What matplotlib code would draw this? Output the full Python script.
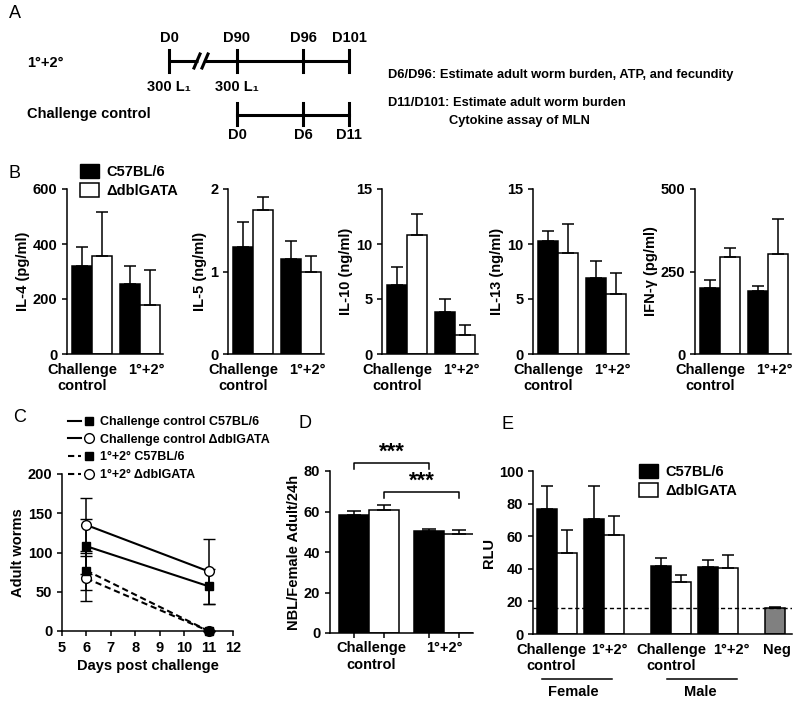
import matplotlib
matplotlib.use("Agg")
import matplotlib.pyplot as plt
import matplotlib.transforms as mtransforms
import numpy as np
from matplotlib.lines import Line2D
from matplotlib.patches import Patch
from matplotlib.legend_handler import HandlerTuple

plt.rcParams["font.family"] = ["Liberation Sans", "DejaVu Sans"]
plt.rcParams["font.weight"] = "bold"
plt.rcParams["font.size"] = 10.5
plt.rcParams["axes.labelweight"] = "bold"
plt.rcParams["axes.linewidth"] = 1.1
plt.rcParams["xtick.major.width"] = 1.1
plt.rcParams["ytick.major.width"] = 1.1
plt.rcParams["xtick.major.size"] = 3.5
plt.rcParams["ytick.major.size"] = 3.5
plt.rcParams["axes.spines.top"] = False
plt.rcParams["axes.spines.right"] = False

# ---------------- data ----------------
groups = ["Challenge\ncontrol", "1°+2°"]
strains = ["C57BL/6", "ΔdblGATA"]

# A: infection schedule
timeline_top = ["D0", "D90", "D96", "D101"]
timeline_bottom = ["D0", "D6", "D11"]
dose = "300 L₁"
notes = ["D6/D96: Estimate adult worm burden, ATP, and fecundity",
         "D11/D101: Estimate adult worm burden", "Cytokine assay of MLN"]

# B: MLN cytokines, values for [challenge control, 1°+2°]
cyto_labels = ["IL-4 (pg/ml)", "IL-5 (ng/ml)", "IL-10 (ng/ml)", "IL-13 (ng/ml)", "IFN-γ (pg/ml)"]
cyto_ticks = [[0, 200, 400, 600], [0, 1, 2], [0, 5, 10, 15], [0, 5, 10, 15], [0, 250, 500]]
cyto_b6 = [[320, 255], [1.3, 1.15], [6.3, 3.8], [10.3, 6.9], [200, 190]]
cyto_b6_err = [[70, 65], [0.3, 0.22], [1.6, 1.2], [0.9, 1.6], [25, 17]]
cyto_dbl = [[355, 180], [1.75, 1.0], [10.8, 1.7], [9.2, 5.5], [295, 302]]
cyto_dbl_err = [[162, 125], [0.15, 0.19], [1.9, 0.95], [2.6, 1.9], [27, 108]]

# C: adult worms
days = [6, 11]
worm_labels = ["Challenge control C57BL/6", "Challenge control ΔdblGATA",
               "1°+2° C57BL/6", "1°+2° ΔdblGATA"]
worms_cc_b6 = [108, 57]
worms_cc_b6_err = [35, 22]
worms_cc_dbl = [135, 76]
worms_cc_dbl_err = [35, 41]
worms_sec_b6 = [77, 0]
worms_sec_b6_err = [25, 0]
worms_sec_dbl = [67, 0]
worms_sec_dbl_err = [29, 0]

# D: fecundity
nbl_b6 = [58.5, 50.2]
nbl_b6_err = [1.6, 1.4]
nbl_dbl = [60.7, 49.0]
nbl_dbl_err = [2.4, 2.0]

# E: ATP (RLU)
rlu_groups = ["Challenge\ncontrol", "1°+2°", "Challenge\ncontrol", "1°+2°"]
rlu_sex = ["Female", "Male"]
rlu_b6 = [76.5, 70.5, 41.5, 41.0]
rlu_b6_err = [14.5, 20.5, 5.0, 4.5]
rlu_dbl = [50.0, 61.0, 32.0, 40.5]
rlu_dbl_err = [14.0, 11.5, 4.5, 8.0]
rlu_neg = 16.0
rlu_neg_err = 0.8
rlu_cutoff = 16.0

# ---------------- figure ----------------
W, H = 800, 709
fig = plt.figure(figsize=(W / 100, H / 100), dpi=100)


def px_axes(left, top, right, bottom):
    return fig.add_axes([left / W, 1 - bottom / H, (right - left) / W, (bottom - top) / H])


def pair_bars(ax, centers, b6, b6_err, dbl, dbl_err, width=1.0, cap=4):
    ekw = dict(ecolor="black", elinewidth=1.1, capsize=cap, capthick=1.1)
    zero = np.zeros(len(b6))
    ax.bar(centers - width / 2, b6, width, color="black", edgecolor="black",
           linewidth=1.1, yerr=[zero, b6_err], error_kw=ekw)
    ax.bar(centers + width / 2, dbl, width, color="white", edgecolor="black",
           linewidth=1.1, yerr=[zero, dbl_err], error_kw=ekw)


def letter(x, y, s):
    fig.text(x / W, 1 - y / H, s, fontsize=13, fontweight="normal", va="center")


# ---- A: schematic ----
axA = fig.add_axes([0, 1 - 150 / H, 1, 150 / H])
axA.set_xlim(0, W)
axA.set_ylim(150, 0)
axA.axis("off")
top_x = [169, 237, 303, 349]
bot_x = top_x[1:]
lwA = 2.2
fsA = 10.5
axA.plot([top_x[0], 198], [61, 61], color="black", lw=lwA, solid_capstyle="butt")
axA.plot([205, top_x[-1]], [61, 61], color="black", lw=lwA, solid_capstyle="butt")
for sx in [197, 205]:
    axA.plot([sx - 3, sx + 3], [68, 54], color="black", lw=lwA)
for x, lab in zip(top_x, timeline_top):
    axA.plot([x, x], [50, 72], color="black", lw=lwA)
    axA.text(x, 38, lab, ha="center", va="center", fontsize=fsA)
for x in top_x[:2]:
    axA.text(x, 87, dose, ha="center", va="center", fontsize=fsA)
axA.plot([bot_x[0], bot_x[-1]], [115, 115], color="black", lw=lwA)
for x, lab in zip(bot_x, timeline_bottom):
    axA.plot([x, x], [103, 125], color="black", lw=lwA)
    axA.text(x, 135, lab, ha="center", va="center", fontsize=fsA)
axA.text(27, 63, "1°+2°", va="center", fontsize=fsA)
axA.text(27, 114, "Challenge control", va="center", fontsize=fsA)
axA.text(388, 75, notes[0], va="center", fontsize=9.3)
axA.text(388, 103, notes[1], va="center", fontsize=9.3)
axA.text(449, 121, notes[2], va="center", fontsize=9.3)

# ---- B: cytokines ----
centers = np.array([1.25, 3.65])
label_x = [0.75, 3.95]
for i, left in enumerate([67, 228, 382, 533, 695]):
    ax = px_axes(left, 189, left + 96, 354)
    pair_bars(ax, centers, cyto_b6[i], cyto_b6_err[i], cyto_dbl[i], cyto_dbl_err[i])
    ax.set_xlim(0, 4.8)
    ax.set_ylim(0, cyto_ticks[i][-1])
    ax.set_yticks(cyto_ticks[i])
    ax.set_xticks(label_x, groups)
    ax.tick_params(axis="x", length=0, pad=6.5)
    ax.set_ylabel(cyto_labels[i], labelpad=2)

fig.legend([Patch(facecolor="black", edgecolor="black"),
            Patch(facecolor="white", edgecolor="black", linewidth=1.1)],
           strains, loc="upper left", bbox_to_anchor=(80 / W, 1 - 164 / H),
           frameon=False, borderpad=0, borderaxespad=0, handlelength=1.3,
           handleheight=1.1, handletextpad=0.5, labelspacing=0.25, fontsize=10.5)

# ---- C: adult worms ----
axC = px_axes(62, 474, 233, 631)
dash = (0, (3, 1.8))
series = [(worms_cc_b6, worms_cc_b6_err, "-", "s", "black", 6),
          (worms_cc_dbl, worms_cc_dbl_err, "-", "o", "white", 7),
          (worms_sec_b6, worms_sec_b6_err, dash, "s", "black", 6),
          (worms_sec_dbl, worms_sec_dbl_err, dash, "o", "white", 7)]
handles = []
for vals, errs, ls, mk, fc, ms in series:
    handles.append((Line2D([], [], color="black", ls=ls, lw=1.5),
                    Line2D([], [], ls="none", marker=mk, mfc=fc, mec="black", ms=ms)))
# open circles first so the filled squares sit on top
for vals, errs, ls, mk, fc, ms in [series[1], series[3], series[0], series[2]]:
    axC.errorbar(days, vals, yerr=errs, color="black", ls=ls, lw=1.5, marker=mk,
                 mfc=fc, mec="black", ms=ms, mew=1.0, capsize=4, elinewidth=1.1,
                 capthick=1.1, clip_on=False, zorder=3)
axC.set_xlim(5, 12)
axC.set_ylim(0, 200)
axC.set_xticks(range(5, 13))
axC.set_yticks([0, 50, 100, 150, 200])
axC.set_xlabel("Days post challenge", labelpad=3)
axC.set_ylabel("Adult worms", labelpad=2)
fig.legend(handles, worm_labels, handler_map={tuple: HandlerTuple(ndivide=None, pad=0.2)},
           loc="upper left", bbox_to_anchor=(68 / W, 1 - 416 / H), frameon=False,
           borderpad=0, borderaxespad=0, handlelength=2.2, handletextpad=0.4,
           labelspacing=0.45, fontsize=9)

# ---- D: fecundity ----
axD = px_axes(330, 471, 473, 633)
cD = np.array([1.3, 3.8])
pair_bars(axD, cD, nbl_b6, nbl_b6_err, nbl_dbl, nbl_dbl_err, cap=5)
axD.set_xlim(0, 4.77)
axD.set_ylim(0, 80)
axD.set_yticks([0, 20, 40, 60, 80])
axD.set_xticks(np.concatenate([cD - 0.5, cD + 0.5]), [""] * 4)
axD.set_xticks([1.37, 3.8], groups, minor=True)
axD.tick_params(axis="x", which="minor", length=0, pad=6)
axD.set_ylabel("NBL/Female Adult/24h", labelpad=2)
for (x0, x1), yb in [((cD[0] - 0.5, cD[1] - 0.5), 84), ((cD[0] + 0.5, cD[1] + 0.5), 69.5)]:
    axD.plot([x0, x0, x1, x1], [yb - 3, yb, yb, yb - 3], color="black", lw=1.1, clip_on=False)
    axD.text((x0 + x1) / 2, yb + 0.3, "***", ha="center", va="bottom", fontsize=16)

# ---- E: ATP ----
axE = px_axes(533, 471, 792, 634)
cE = np.array([1.2, 3.55, 6.9, 9.25])
neg_x = 12.1
pair_bars(axE, cE, rlu_b6, rlu_b6_err, rlu_dbl, rlu_dbl_err)
axE.bar([neg_x], [rlu_neg], 1.0, color="#808080", edgecolor="black", linewidth=1.1,
        yerr=[[0], [rlu_neg_err]], error_kw=dict(ecolor="black", elinewidth=1.1,
                                                   capsize=4, capthick=1.1))
axE.axhline(rlu_cutoff, color="black", lw=1.0, ls=(0, (3, 2)), zorder=4)
axE.set_xlim(0, 12.95)
axE.set_ylim(0, 100)
axE.set_yticks([0, 20, 40, 60, 80, 100])
axE.set_xticks([0.9, 3.83, 6.9, 9.9, 12.2], rlu_groups + ["Neg"])
axE.tick_params(axis="x", length=0, pad=6.5)
axE.set_ylabel("RLU", labelpad=2)
trE = mtransforms.blended_transform_factory(axE.transData, axE.transAxes)
for (x0, x1, xm), sex in zip([(0.45, 3.95, 2.0), (6.7, 10.2, 8.35)], rlu_sex):
    axE.plot([x0, x1], [-0.276, -0.276], color="black", lw=1.1,
             transform=trE, clip_on=False)
    axE.text(xm, -0.31, sex, ha="center", va="top", transform=trE)
axE.legend([Patch(facecolor="black", edgecolor="black"),
            Patch(facecolor="white", edgecolor="black", linewidth=1.1)],
           strains, loc="upper left", bbox_to_anchor=(0.41, 1.04), frameon=False,
           borderpad=0, borderaxespad=0, handlelength=1.3, handleheight=1.1,
           handletextpad=0.5, labelspacing=0.25, fontsize=10.5)

letter(9, 13, "A")
letter(9, 173, "B")
letter(13, 417, "C")
letter(299, 423, "D")
letter(502, 425, "E")

fig.savefig("out.png", dpi=100)
